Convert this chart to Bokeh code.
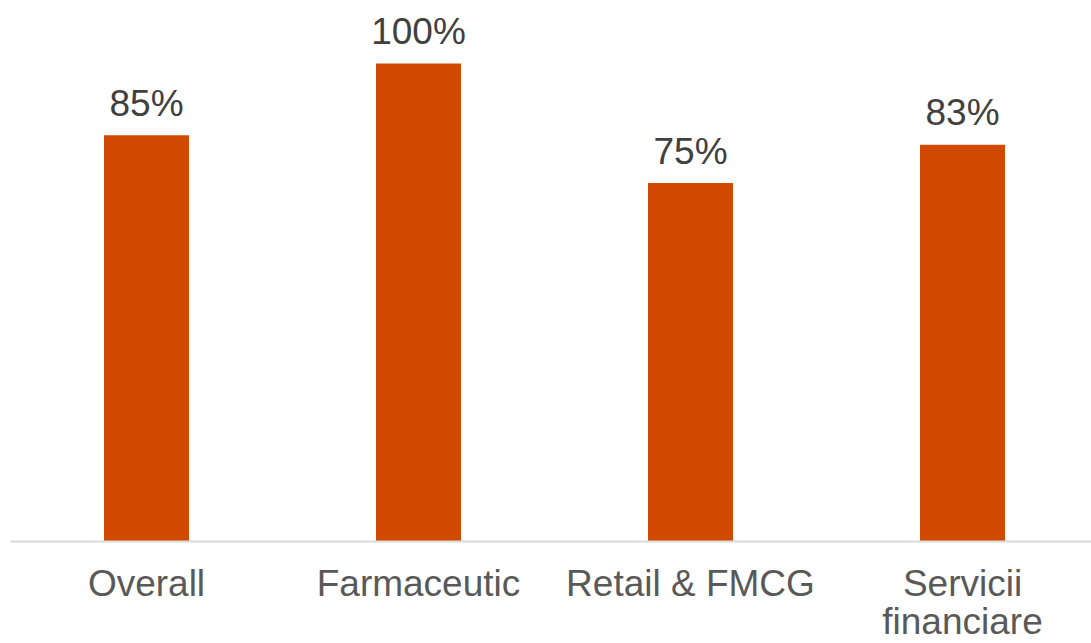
from bokeh.plotting import figure
from bokeh.models import ColumnDataSource, FixedTicker, Range1d
from bokeh.embed import file_html
from bokeh.resources import INLINE
from bokeh.core.properties import value

categories = ["Overall", "Farmaceutic", "Retail & FMCG", "Servicii\nfinanciare"]
values = [85, 100, 75, 83]
value_labels = ["85%", "100%", "75%", "83%"]

xs = list(range(len(categories)))
src = ColumnDataSource(dict(x=xs, top=values, lab=value_labels))

FW, FH = 1081, 541
p = figure(frame_width=FW, frame_height=FH, output_backend="svg", toolbar_location=None,
           x_range=Range1d(-0.5, -0.5 + FW / 272), y_range=Range1d(0, FH / 4.78),
           min_border_left=10, min_border_right=0, min_border_top=0, min_border_bottom=0)
p.outline_line_color = None
p.grid.visible = False
p.yaxis.visible = False
p.background_fill_color = "white"
p.border_fill_color = "white"

p.vbar(x="x", top="top", width=85 / 272, bottom=0, source=src,
       fill_color="#D04A02", line_color=None)

p.text(x="x", y="top", text="lab", source=src, text_align="center",
       text_baseline="alphabetic", y_offset=-32,
       text_font=value("Liberation Sans"), text_font_size="37px", text_color="#404040")

ax = p.xaxis[0]
ax.ticker = FixedTicker(ticks=xs)
ax.major_label_overrides = {i: c for i, c in zip(xs, categories)}
ax.major_tick_line_color = None
ax.minor_tick_line_color = None
ax.axis_line_color = "#D9D9D9"
ax.axis_line_width = 2
ax.major_label_text_font = "Liberation Sans"
ax.major_label_text_font_size = "37px"
ax.major_label_text_color = "#595959"
ax.major_label_text_line_height = 0.95
ax.major_label_standoff = 15

open("out.html", "w").write(file_html(p, INLINE))
